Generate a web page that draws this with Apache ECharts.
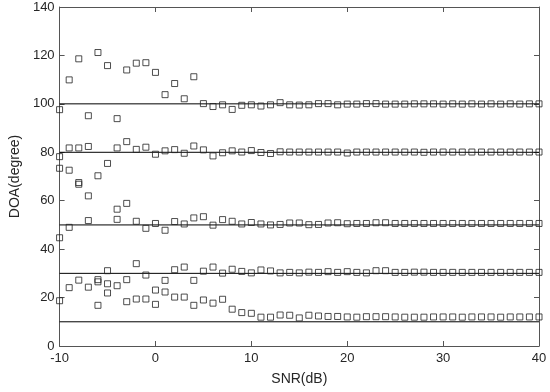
<!DOCTYPE html>
<html>
<head>
<meta charset="utf-8">
<script src="https://cdn.jsdelivr.net/npm/echarts@6/dist/echarts.min.js"></script>
<style>html,body{margin:0;padding:0;background:#fff}#c{width:550px;height:392px}</style>
</head>
<body>
<div id="c"></div>
<script>
// SNR values (dB)
var snr = [-10,-9,-8,-7,-6,-5,-4,-3,-2,-1,0,1,2,3,4,5,6,7,8,9,10,11,12,13,14,15,16,17,18,19,20,21,22,23,24,25,26,27,28,29,30,31,32,33,34,35,36,37,38,39,40];
// True DOA reference lines (degree)
var trueDOA = [10, 30, 50, 80, 100];
// Estimated DOA, five estimates per SNR (sorted high to low)
var est1 = [97.6,109.9,118.6,95.1,121.2,115.8,93.9,114.0,116.8,117.0,113.0,103.8,108.4,102.1,111.2,100.1,98.9,99.6,97.7,99.4,99.6,99.1,99.6,100.5,99.6,99.5,99.6,100.1,100.1,99.6,99.9,99.9,100.1,100.1,99.9,99.9,99.9,100.0,100.0,100.0,99.9,100.0,99.9,100.0,99.9,100.0,99.9,100.0,99.9,100.0,100.0];
var est2 = [78.2,81.8,81.8,82.4,70.3,75.4,81.8,84.4,81.2,82.1,79.2,80.6,81.1,79.6,82.6,81.0,78.5,79.8,80.6,80.1,80.7,79.9,79.5,80.2,80.1,80.1,80.1,80.1,80.1,80.1,79.7,80.1,80.1,80.1,80.1,80.1,80.1,80.1,80.0,80.1,80.1,80.1,80.1,80.1,80.1,80.1,80.1,80.1,80.1,80.1,80.1];
var est3 = [73.4,72.6,67.5,62.0,27.4,31.1,56.5,58.9,51.5,48.6,50.6,47.8,51.4,50.4,52.9,53.4,49.9,52.2,51.5,50.4,51.0,50.4,50.0,50.2,50.8,50.8,50.1,50.2,50.8,50.9,50.5,50.6,50.6,50.9,50.9,50.6,50.6,50.6,50.6,50.6,50.6,50.6,50.6,50.6,50.6,50.6,50.6,50.6,50.6,50.6,50.6];
var est4 = [44.7,49.0,66.8,51.8,26.5,25.7,52.3,27.4,34.0,29.3,23.1,27.1,31.5,32.6,27.1,30.9,32.6,30.1,31.7,30.8,30.2,31.4,31.0,30.2,30.4,30.2,30.5,30.4,30.7,30.4,30.7,30.4,30.2,31.1,31.1,30.4,30.4,30.5,30.5,30.4,30.4,30.4,30.4,30.4,30.4,30.4,30.4,30.4,30.4,30.4,30.4];
var est5 = [18.7,24.1,27.2,24.3,16.8,21.9,24.9,18.3,19.4,19.4,17.2,22.3,20.2,20.2,16.8,19.0,17.7,19.3,15.2,13.8,13.5,11.9,11.9,12.8,12.7,11.6,12.7,12.4,12.2,12.2,12.0,11.9,12.1,12.1,12.1,12.0,11.9,11.9,11.9,12.0,12.0,12.0,11.9,12.0,12.0,12.0,11.9,12.0,12.0,12.0,12.0];
var xTicks = [-10, 0, 10, 20, 30, 40];
var yTicks = [0, 20, 40, 60, 80, 100, 120, 140];

var estimates = [est1, est2, est3, est4, est5];
var axisColor = '#555';
var textColor = '#262626';
var font = 'Liberation Sans, Arial, Helvetica, sans-serif';

var series = [];
trueDOA.forEach(function (v) {
  series.push({
    type: 'line', data: [[snr[0], v], [snr[snr.length - 1], v]],
    symbol: 'none', silent: true, z: 2,
    lineStyle: { color: '#000', width: 1 }
  });
});
estimates.forEach(function (arr) {
  series.push({
    type: 'scatter', z: 3,
    data: snr.map(function (x, i) { return [x, arr[i]]; }),
    symbol: 'rect', symbolSize: 6,
    itemStyle: { color: 'rgba(0,0,0,0)', borderColor: '#222', borderWidth: 1 }
  });
});

function xAx(pos, show) {
  return {
    type: 'value', position: pos, min: xTicks[0], max: xTicks[xTicks.length - 1], interval: 10,
    axisLine: { show: true, onZero: false, lineStyle: { color: axisColor, width: 1 } },
    axisTick: { show: true, inside: true, length: 5, lineStyle: { color: axisColor } },
    axisLabel: { show: show, color: textColor, fontFamily: font, fontSize: 13, margin: 6 },
    splitLine: { show: false },
    name: show ? 'SNR(dB)' : '', nameLocation: 'middle', nameGap: 26,
    nameTextStyle: { color: textColor, fontFamily: font, fontSize: 14 }
  };
}
function yAx(pos, show) {
  return {
    type: 'value', position: pos, min: yTicks[0], max: yTicks[yTicks.length - 1], interval: 20,
    axisLine: { show: true, onZero: false, lineStyle: { color: axisColor, width: 1 } },
    axisTick: { show: true, inside: true, length: 5, lineStyle: { color: axisColor } },
    axisLabel: { show: show, color: textColor, fontFamily: font, fontSize: 13, margin: 5 },
    splitLine: { show: false },
    name: show ? 'DOA(degree)' : '', nameLocation: 'middle', nameGap: 32,
    nameTextStyle: { color: textColor, fontFamily: font, fontSize: 14 }
  };
}

var chart = echarts.init(document.getElementById('c'));
chart.setOption({
  animation: false,
  backgroundColor: '#fff',
  grid: { left: 49, right: 11, top: 7, bottom: 46, containLabel: false },
  xAxis: [xAx('bottom', true), xAx('top', false)],
  yAxis: [yAx('left', true), yAx('right', false)],
  series: series
});
</script>
</body>
</html>
